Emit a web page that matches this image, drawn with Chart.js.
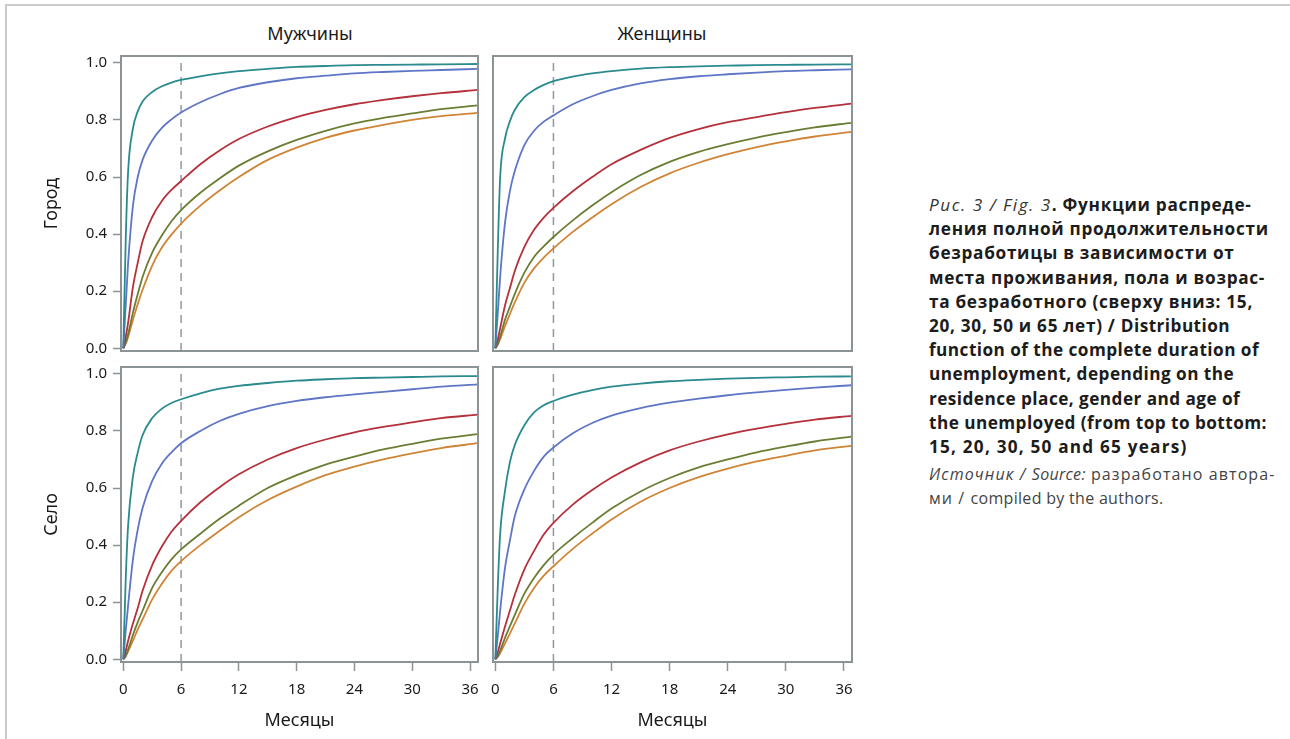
<!DOCTYPE html>
<html lang="ru">
<head>
<meta charset="utf-8">
<title>Функции распределения полной продолжительности безработицы</title>
<script src="https://cdn.jsdelivr.net/npm/chart.js@4.4.1/dist/chart.umd.min.js"></script>
<style>
  html, body { margin: 0; padding: 0; background: #fff; }
  body { width: 1290px; height: 739px; position: relative; overflow: hidden; font-family: 'Noto Sans', sans-serif; }
  .frame { position: absolute; left: 5px; top: 4px; right: -10px; bottom: -10px;
           border-top: 2px solid #c9cacd; border-left: 2px solid #c9cacd; }
  canvas { position: absolute; }
  .col-title { position: absolute; top: 21px; font-size: 18px; line-height: 1.362; color: #1a1a1a;
               transform: translateX(-50%); white-space: nowrap; }
  .caption { position: absolute; left: 929px; top: 193px; white-space: nowrap;
             font-family: 'Open Sans', sans-serif; font-weight: bold; font-size: 17.2px;
             line-height: 24.2px; color: #1c1c1c; letter-spacing: 0.7px; }
  .caption .fig { font-weight: normal; font-style: italic; color: #333; letter-spacing: 1.5px; }
  .caption .en { letter-spacing: 0.45px; }
  .caption .wide { letter-spacing: 1.2px; }
  .source { position: absolute; left: 929px; top: 463px; white-space: nowrap;
            font-family: 'Open Sans', sans-serif; font-size: 16px; line-height: 23.5px; color: #444;
            letter-spacing: 1.1px; }
  .source .en { letter-spacing: 0.3px; }
</style>
</head>
<body>
<div class="frame"></div>

<div class="col-title" style="left:310px">Мужчины</div>
<div class="col-title" style="left:662px">Женщины</div>

<canvas id="cityMen"></canvas>
<canvas id="cityWomen"></canvas>
<canvas id="villageMen"></canvas>
<canvas id="villageWomen"></canvas>

<div class="caption">
  <span class="fig">Рис. 3 / Fig. 3</span>. Функции распреде-<br>
  ления полной продолжительности<br>
  безработицы в зависимости от<br>
  места проживания, пола и возрас-<br>
  та безработного (сверху вниз: 15,<br>
  20, 30, 50 и 65 лет) / <span class="en">Distribution</span><br>
  <span class="en">function of the complete duration of</span><br>
  <span class="en">unemployment, depending on the</span><br>
  <span class="en">residence place, gender and age of</span><br>
  <span class="en">the unemployed (from top to bottom:</span><br>
  <span class="wide">15, 20, 30, 50 and 65 years)</span>
</div>
<div class="source">
  <i>Источник / <span class="en">Source:</span></i> разработано автора-<br>
  ми / <span class="en">compiled by the authors.</span>
</div>

<script>
const months = [0, 0.25, 0.5, 1, 1.5, 2, 3, 4, 5, 6, 8, 10, 12, 15, 18, 21, 24, 27, 30, 33, 36.8];
const xTicks = [0, 6, 12, 18, 24, 30, 36];
const yTicks = [0, 0.2, 0.4, 0.6, 0.8, 1.0];
const cutoffMonth = 6;
const ageGroups = ['15 лет', '20 лет', '30 лет', '50 лет', '65 лет'];
const seriesColors = ['#2a8a8e', '#5f75c6', '#b5303a', '#6a7d33', '#cf8436'];

// Город, мужчины
const cityMen15 = [0, .38, .62, .77, .83, .865, .898, .918, .931, .940, .953, .963, .971, .979, .986, .989, .992, .993, .994, .995, .996];
const cityMen20 = [0, .15, .30, .50, .60, .66, .728, .772, .802, .826, .862, .890, .912, .932, .946, .955, .963, .968, .972, .975, .979];
const cityMen30 = [0, .04, .09, .215, .30, .375, .46, .516, .555, .586, .645, .693, .733, .777, .810, .835, .855, .870, .883, .894, .905];
const cityMen50 = [0, .02, .05, .125, .19, .25, .335, .395, .445, .484, .545, .595, .640, .690, .730, .762, .788, .807, .823, .838, .851];
const cityMen65 = [0, .015, .04, .10, .155, .205, .29, .353, .398, .437, .50, .553, .600, .660, .703, .737, .763, .783, .800, .813, .825];

// Город, женщины
const cityWomen15 = [0, .34, .60, .735, .795, .835, .88, .905, .923, .936, .952, .963, .971, .980, .985, .988, .990, .992, .993, .994, .995];
const cityWomen20 = [0, .12, .25, .44, .55, .62, .712, .762, .794, .816, .855, .883, .905, .928, .943, .953, .960, .966, .971, .974, .977];
const cityWomen30 = [0, .03, .07, .15, .21, .27, .355, .415, .458, .492, .55, .60, .645, .695, .737, .768, .792, .810, .827, .842, .857];
const cityWomen50 = [0, .015, .04, .10, .145, .19, .265, .32, .357, .39, .448, .50, .547, .607, .653, .688, .715, .738, .757, .774, .790];
const cityWomen65 = [0, .012, .032, .078, .12, .16, .23, .28, .318, .35, .408, .458, .505, .565, .613, .650, .680, .705, .725, .742, .758];

// Село, мужчины
const villageMen15 = [0, .28, .47, .64, .725, .785, .845, .878, .898, .911, .932, .948, .958, .968, .976, .981, .985, .987, .989, .991, .992];
const villageMen20 = [0, .10, .19, .35, .455, .53, .625, .685, .725, .757, .80, .835, .860, .887, .905, .918, .928, .937, .946, .955, .963];
const villageMen30 = [0, .03, .065, .125, .18, .24, .33, .395, .447, .485, .55, .603, .648, .700, .740, .770, .795, .814, .830, .845, .857];
const villageMen50 = [0, .012, .035, .085, .13, .17, .25, .305, .35, .385, .44, .492, .538, .600, .645, .682, .710, .735, .755, .773, .789];
const villageMen65 = [0, .01, .028, .065, .105, .14, .21, .265, .31, .344, .40, .450, .498, .558, .605, .645, .675, .700, .721, .740, .757];

// Село, женщины
const villageWomen15 = [0, .25, .44, .59, .69, .75, .82, .865, .89, .905, .927, .943, .955, .966, .974, .979, .983, .986, .988, .990, .991];
const villageWomen20 = [0, .08, .17, .32, .415, .50, .595, .66, .71, .742, .792, .828, .854, .880, .899, .913, .925, .935, .944, .952, .960];
const villageWomen30 = [0, .025, .055, .115, .17, .225, .315, .38, .437, .478, .542, .593, .637, .690, .732, .763, .788, .808, .825, .840, .853];
const villageWomen50 = [0, .01, .03, .075, .115, .155, .23, .285, .33, .367, .425, .478, .528, .588, .635, .672, .700, .725, .745, .763, .780];
const villageWomen65 = [0, .008, .022, .056, .09, .125, .195, .25, .293, .326, .387, .44, .49, .552, .600, .638, .668, .693, .713, .732, .748];

const CONFIG = {
  X_MIN: -0.24,
  X_MAX: 36.83,
  Y_MIN: -0.0095,
  Y_MAX: 1.024,
  AXIS_COLOR: '#8c9397',
  DASH_COLOR: '#8f999d',
  TEXT_COLOR: '#1a1a1a',
  FONT: 'Noto Sans',
  PLOT_HEIGHT: 295,
  Y_AXIS_WIDTH: 80,
  X_AXIS_HEIGHT: 73,
  PAD: 20
};

/**
 * Draws the box around the plot area
 */
const framePlugin = {
  id: 'panelFrame',
  afterDatasetsDraw(chart) {
    const { ctx, chartArea } = chart;
    ctx.save();
    ctx.strokeStyle = CONFIG.AXIS_COLOR;
    ctx.lineWidth = 2;
    ctx.strokeRect(chartArea.left, chartArea.top, chartArea.right - chartArea.left, chartArea.bottom - chartArea.top);
    ctx.restore();
  }
};

const PanelRenderer = {
  /**
   * Pairs the month grid with one series
   * @param {Array} values - CDF values
   * @returns {Array} points
   */
  toPoints(values) {
    return months.map((m, i) => ({ x: m, y: values[i] }));
  },

  /**
   * Builds datasets for a panel
   * @param {Array} series - five value arrays, youngest first
   */
  createDatasets(series) {
    const curves = series.map((values, i) => ({
      label: ageGroups[i],
      data: this.toPoints(values),
      borderColor: seriesColors[i],
      borderWidth: 1.8,
      pointRadius: 0,
      fill: false,
      cubicInterpolationMode: 'monotone'
    }));

    // 6-month marker, drawn under the curves
    curves.push({
      label: 'cutoff',
      data: [{ x: cutoffMonth, y: CONFIG.Y_MIN }, { x: cutoffMonth, y: CONFIG.Y_MAX }],
      borderColor: CONFIG.DASH_COLOR,
      borderWidth: 1.5,
      borderDash: [8, 6],
      pointRadius: 0,
      fill: false,
      tension: 0
    });
    return curves;
  },

  /**
   * Renders one panel of the 2x2 grid
   */
  render({ canvasId, series, left, top, plotWidth, showX, showY, rowTitle }) {
    const canvas = document.getElementById(canvasId);
    const pad = CONFIG.PAD;
    const padding = {
      left: showY ? 0 : pad,
      right: pad,
      top: pad,
      bottom: showX ? 0 : pad
    };
    const yWidth = showY ? CONFIG.Y_AXIS_WIDTH : 0;
    const xHeight = showX ? CONFIG.X_AXIS_HEIGHT : 0;
    const width = padding.left + yWidth + plotWidth + padding.right;
    const height = padding.top + CONFIG.PLOT_HEIGHT + xHeight + padding.bottom;

    canvas.width = width;
    canvas.height = height;
    canvas.style.width = width + 'px';
    canvas.style.height = height + 'px';
    canvas.style.left = (left - padding.left - yWidth) + 'px';
    canvas.style.top = (top - padding.top) + 'px';

    const tickFont = { family: CONFIG.FONT, size: 15 };
    const titleFont = { family: CONFIG.FONT, size: 18 };

    return new Chart(canvas.getContext('2d'), {
      type: 'line',
      data: { datasets: this.createDatasets(series) },
      plugins: [framePlugin],
      options: {
        responsive: false,
        animation: false,
        events: [],
        layout: { padding },
        plugins: {
          legend: { display: false },
          tooltip: { enabled: false }
        },
        scales: {
          x: {
            type: 'linear',
            min: CONFIG.X_MIN,
            max: CONFIG.X_MAX,
            display: showX,
            afterBuildTicks: (scale) => { scale.ticks = xTicks.map(value => ({ value })); },
            afterFit: (scale) => { scale.height = xHeight; },
            ticks: { autoSkip: false, maxRotation: 0, padding: 10, color: CONFIG.TEXT_COLOR, font: tickFont,
                     callback: (v) => String(v) },
            grid: { display: true, drawOnChartArea: false, drawTicks: true, tickLength: 9,
                    tickColor: CONFIG.AXIS_COLOR, tickWidth: 1.5 },
            border: { display: false },
            title: { display: true, text: 'Месяцы', color: CONFIG.TEXT_COLOR, font: titleFont,
                     padding: { top: 0, bottom: 3 } }
          },
          y: {
            type: 'linear',
            min: CONFIG.Y_MIN,
            max: CONFIG.Y_MAX,
            display: showY,
            afterBuildTicks: (scale) => { scale.ticks = yTicks.map(value => ({ value })); },
            afterFit: (scale) => { scale.width = yWidth; },
            ticks: { autoSkip: false, padding: 6, color: CONFIG.TEXT_COLOR, font: tickFont,
                     callback: (v) => Number(v).toFixed(1) },
            grid: { display: true, drawOnChartArea: false, drawTicks: true, tickLength: 8,
                    tickColor: CONFIG.AXIS_COLOR, tickWidth: 1.5 },
            border: { display: false },
            title: { display: true, text: rowTitle, color: CONFIG.TEXT_COLOR, font: titleFont,
                     padding: { top: 0.5, bottom: 0 } }
          }
        }
      }
    });
  }
};

PanelRenderer.render({
  canvasId: 'cityMen', left: 121, top: 56, plotWidth: 357, showX: false, showY: true, rowTitle: 'Город',
  series: [cityMen15, cityMen20, cityMen30, cityMen50, cityMen65]
});
PanelRenderer.render({
  canvasId: 'cityWomen', left: 493, top: 56, plotWidth: 359, showX: false, showY: false, rowTitle: 'Город',
  series: [cityWomen15, cityWomen20, cityWomen30, cityWomen50, cityWomen65]
});
PanelRenderer.render({
  canvasId: 'villageMen', left: 121, top: 367, plotWidth: 357, showX: true, showY: true, rowTitle: 'Село',
  series: [villageMen15, villageMen20, villageMen30, villageMen50, villageMen65]
});
PanelRenderer.render({
  canvasId: 'villageWomen', left: 493, top: 367, plotWidth: 359, showX: true, showY: false, rowTitle: 'Село',
  series: [villageWomen15, villageWomen20, villageWomen30, villageWomen50, villageWomen65]
});
</script>
</body>
</html>
